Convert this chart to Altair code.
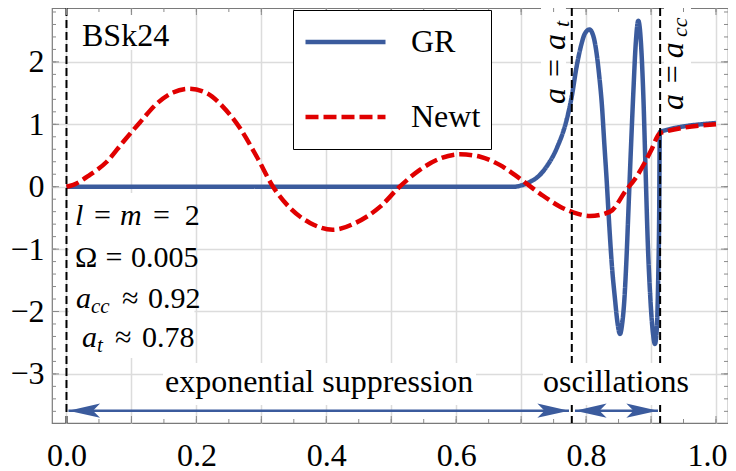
import altair as alt
import pandas as pd

BLUE = "#3b5b9d"
RED = "#e00000"
FONT = "'Liberation Serif', 'Times New Roman', 'DejaVu Serif', serif"

# ---------------- data ----------------
gr_x = [0.0, 0.2, 0.4, 0.6, 0.69, 0.70, 0.714, 0.727, 0.739, 0.755, 0.770, 0.778,
        0.785, 0.792, 0.798, 0.805, 0.811, 0.816, 0.820, 0.8244, 0.828, 0.8317,
        0.835, 0.840, 0.8445, 0.848, 0.8522, 0.8555, 0.859, 0.862, 0.8655, 0.869,
        0.8727, 0.8765, 0.8804, 0.8845, 0.888, 0.8915, 0.895, 0.899, 0.903, 0.906,
        0.909, 0.911, 0.9125, 0.9135, 1.0]
gr_y = [0.0, 0.0, 0.0, 0.0, 0.0, 0.02, 0.08, 0.17, 0.32, 0.62, 1.07, 1.45,
        1.9, 2.25, 2.45, 2.52, 2.42, 2.15, 1.8, 1.3, 0.7, 0.1,
        -0.5, -1.3, -1.8, -2.15, -2.36, -2.2, -1.8, -1.2, -0.3, 0.6,
        1.5, 2.3, 2.66, 2.3, 1.5, 0.3, -0.9, -1.8, -2.35, -2.52,
        -2.25, -1.5, -0.5, 0.88, 1.02]

newt_x = [0.0, 0.0105, 0.036, 0.062, 0.0875, 0.113, 0.139, 0.164, 0.188, 0.216,
          0.241, 0.267, 0.293, 0.318, 0.345, 0.375, 0.41, 0.445, 0.483, 0.513,
          0.544, 0.575, 0.606, 0.637, 0.667, 0.698, 0.729, 0.76, 0.78, 0.806,
          0.837, 0.862, 0.875, 0.89, 0.90, 0.914, 1.0]
newt_y = [0.0, 0.03, 0.19, 0.40, 0.72, 1.03, 1.33, 1.51, 1.57, 1.50,
          1.28, 0.94, 0.48, 0.0, -0.35, -0.58, -0.69, -0.58, -0.32, 0.0,
          0.27, 0.45, 0.52, 0.48, 0.35, 0.13, -0.11, -0.32, -0.41, -0.47,
          -0.40, -0.05, 0.12, 0.38, 0.58, 0.86, 1.0]

a_t = 0.778
a_cc = 0.914
v_lines = [0.0, a_t, a_cc]

x_grid = [0.0, 0.1, 0.2, 0.3, 0.4, 0.5, 0.6, 0.7, 0.8, 0.9, 1.0]
y_grid = [-3, -2, -1, 0, 1, 2]
x_minor = [0.0, 0.05, 0.1, 0.15, 0.2, 0.25, 0.3, 0.35, 0.4, 0.45, 0.5, 0.55,
           0.6, 0.65, 0.7, 0.75, 0.8, 0.85, 0.9, 0.95, 1.0]
y_minor = [-3.6, -3.4, -3.2, -3.0, -2.8, -2.6, -2.4, -2.2, -2.0, -1.8, -1.6, -1.4,
           -1.2, -1.0, -0.8, -0.6, -0.4, -0.2, 0.0, 0.2, 0.4, 0.6, 0.8, 1.0,
           1.2, 1.4, 1.6, 1.8, 2.0, 2.2, 2.4, 2.6, 2.8]

# arrows (data units)
arrow_y = -3.59
arrow_from = [0.003, 0.7829]
arrow_to = [0.7737, 0.9107]

# ---------------- layout ----------------
W, H = 676, 415
xs = alt.Scale(domain=[-0.0223, 1.0185], nice=False, zero=False)
ys = alt.Scale(domain=[-3.787, 2.864], nice=False, zero=False)

AX = alt.Axis(values=x_grid, grid=True, ticks=False, domain=False, title=None,
              labelExpr="round(datum.value*10) % 2 == 0 ? format(datum.value, '.1f') : ''",
              labelPadding=17, labelFlush=False, labelOverlap=False,
              labelAlign={"condition": {"test": "datum.value > 0.99", "value": "right"},
                          "value": "center"},
              labelOffset={"condition": {"test": "datum.value > 0.99", "value": 11},
                           "value": 0})
AY = alt.Axis(values=y_grid, grid=True, ticks=False, domain=False, title=None,
              format="d", labelPadding=8, labelOverlap=False)


def X(f):
    return alt.X(f, scale=xs, axis=AX, title=None)


def Y(f):
    return alt.Y(f, scale=ys, axis=AY, title=None)


curves = pd.DataFrame({
    "a": gr_x + newt_x,
    "v": gr_y + newt_y,
    "series": ["GR"] * len(gr_x) + ["Newt"] * len(newt_x),
})

leg = alt.Legend(orient="none", legendX=241, legendY=2, title=None,
                 symbolType="stroke", symbolSize=6400, symbolStrokeWidth=4.5,
                 clipHeight=44, rowPadding=31, padding=10,
                 labelFont=FONT, labelFontSize=32, labelOffset=23, labelColor="black",
                 fillColor="white", strokeColor="black")

lines = alt.Chart(curves).mark_line(interpolate="monotone", strokeWidth=4.5).encode(
    x=X("a:Q"),
    y=Y("v:Q"),
    color=alt.Color("series:N", scale=alt.Scale(domain=["GR", "Newt"], range=[BLUE, RED]),
                    legend=leg),
    strokeDash=alt.StrokeDash("series:N",
                              scale=alt.Scale(domain=["GR", "Newt"], range=[[1, 0], [13, 5]]),
                              legend=leg),
)

vl = alt.Chart(pd.DataFrame({"a": v_lines})).mark_rule(
    color="black", strokeWidth=2, strokeDash=[8, 4]).encode(x=X("a:Q"))

# white label backgrounds
boxes = pd.DataFrame({
    "x1": [0.0085, 0.004, 0.1486, 0.7337, 0.7306, 0.920],
    "x2": [0.167, 0.197, 0.6305, 0.960, 0.7690, 0.9615],
    "y1": [2.19, -2.745, -3.50, -3.50, 1.261, 1.181],
    "y2": [2.75, -0.10, -2.825, -2.825, 2.864, 2.864],
})
bg = alt.Chart(boxes).mark_rect(fill="white").encode(
    x=X("x1:Q"), x2="x2:Q", y=Y("y1:Q"), y2="y2:Q")


def txt(df, **kw):
    props = dict(font=FONT, color="black", baseline="alphabetic", align="left")
    props.update(kw)
    return alt.Chart(df).mark_text(**props).encode(x=X("x:Q"), y=Y("y:Q"), text="t:N")


t_big = pd.DataFrame({"x": [0.0239], "y": [2.255], "t": ["BSk24"]})
t_center = pd.DataFrame({"x": [0.389, 0.846], "y": [-3.29, -3.29],
                         "t": ["exponential suppression", "oscillations"]})
t_rm = pd.DataFrame({
    "x": [0.0424, 0.1332, 0.182, 0.0131, 0.060, 0.0993, 0.0855, 0.1255, 0.0747, 0.1162],
    "y": [-0.614, -0.614, -0.614, -1.287, -1.287, -1.287, -1.944, -1.944, -2.572, -2.572],
    "t": ["=", "=", "2", "Ω", "=", "0.005", "≈", "0.92", "≈", "0.78"],
})
t_it = pd.DataFrame({"x": [0.0131, 0.0824, 0.0146, 0.0239],
                     "y": [-0.614, -0.614, -1.944, -2.572],
                     "t": ["l", "m", "a", "a"]})
t_sub = pd.DataFrame({"x": [0.0377, 0.047], "y": [-2.024, -2.652], "t": ["cc", "t"]})
r_rm = pd.DataFrame({"x": [0.7675, 0.9492], "y": [1.758, 1.66], "t": ["=", "="]})
r_it = pd.DataFrame({"x": [0.7675, 0.7675, 0.9492, 0.9492],
                     "y": [1.3237, 2.19, 1.2292, 2.06], "t": ["a", "a", "a", "a"]})
r_sub = pd.DataFrame({"x": [0.7736, 0.9554], "y": [2.56, 2.399], "t": ["t", "cc"]})

texts = [
    txt(t_big, fontSize=32),
    txt(t_center, fontSize=32, align="center"),
    txt(t_rm, fontSize=30),
    txt(t_it, fontSize=30, fontStyle="italic"),
    txt(t_sub, fontSize=21, fontStyle="italic"),
    txt(r_rm, fontSize=32, angle=270),
    txt(r_it, fontSize=32, angle=270, fontStyle="italic"),
    txt(r_sub, fontSize=22, angle=270, fontStyle="italic"),
]

arr = pd.DataFrame({"x1": arrow_from, "x2": arrow_to, "y": [arrow_y, arrow_y]})
shafts = alt.Chart(arr).mark_rule(color=BLUE, strokeWidth=2.5).encode(
    x=X("x1:Q"), x2="x2:Q", y=Y("y:Q"))
heads_r = alt.Chart(pd.DataFrame({"x": arrow_to, "y": [arrow_y, arrow_y]})).mark_point(
    shape="M0,0L-2,-0.45L-1.55,0L-2,0.45Z", size=1000, filled=True, opacity=1,
    color=BLUE, strokeWidth=0).encode(x=X("x:Q"), y=Y("y:Q"))
heads_l = alt.Chart(pd.DataFrame({"x": arrow_from, "y": [arrow_y, arrow_y]})).mark_point(
    shape="M0,0L2,-0.45L1.55,0L2,0.45Z", size=1000, filled=True, opacity=1,
    color=BLUE, strokeWidth=0).encode(x=X("x:Q"), y=Y("y:Q"))

# frame ticks (inward)
TC = "#8a8a8a"


def xticks(vals, length):
    d = pd.DataFrame({"a": vals})
    b = alt.Chart(d).mark_rule(color=TC, strokeWidth=1).encode(
        x=X("a:Q"), y=alt.value(H), y2=alt.value(H - length))
    t = alt.Chart(d).mark_rule(color=TC, strokeWidth=1).encode(
        x=X("a:Q"), y=alt.value(0), y2=alt.value(length))
    return [b, t]


def yticks(vals, length):
    d = pd.DataFrame({"v": vals})
    l = alt.Chart(d).mark_rule(color=TC, strokeWidth=1).encode(
        y=Y("v:Q"), x=alt.value(0), x2=alt.value(length))
    r = alt.Chart(d).mark_rule(color=TC, strokeWidth=1).encode(
        y=Y("v:Q"), x=alt.value(W), x2=alt.value(W - length))
    return [l, r]


ticks = xticks(x_minor, 4) + xticks(x_grid, 7) + yticks(y_minor, 4) + yticks(y_grid, 7)

chart = alt.layer(lines, vl, bg, *texts, shafts, heads_r, heads_l, *ticks).properties(
    width=W, height=H,
    autosize=alt.AutoSizeParams(type="none"),
    padding={"left": 44, "top": 0, "right": 0, "bottom": 48},
).configure_view(
    stroke="#7a7a7a", strokeWidth=1.2
).configure_axis(
    labelFont=FONT, labelFontSize=32, labelColor="black",
    gridColor="#dcdcdc", gridWidth=1.5, gridOpacity=1
)

chart.save("out.html", embed_options={"renderer": "svg", "actions": False})
